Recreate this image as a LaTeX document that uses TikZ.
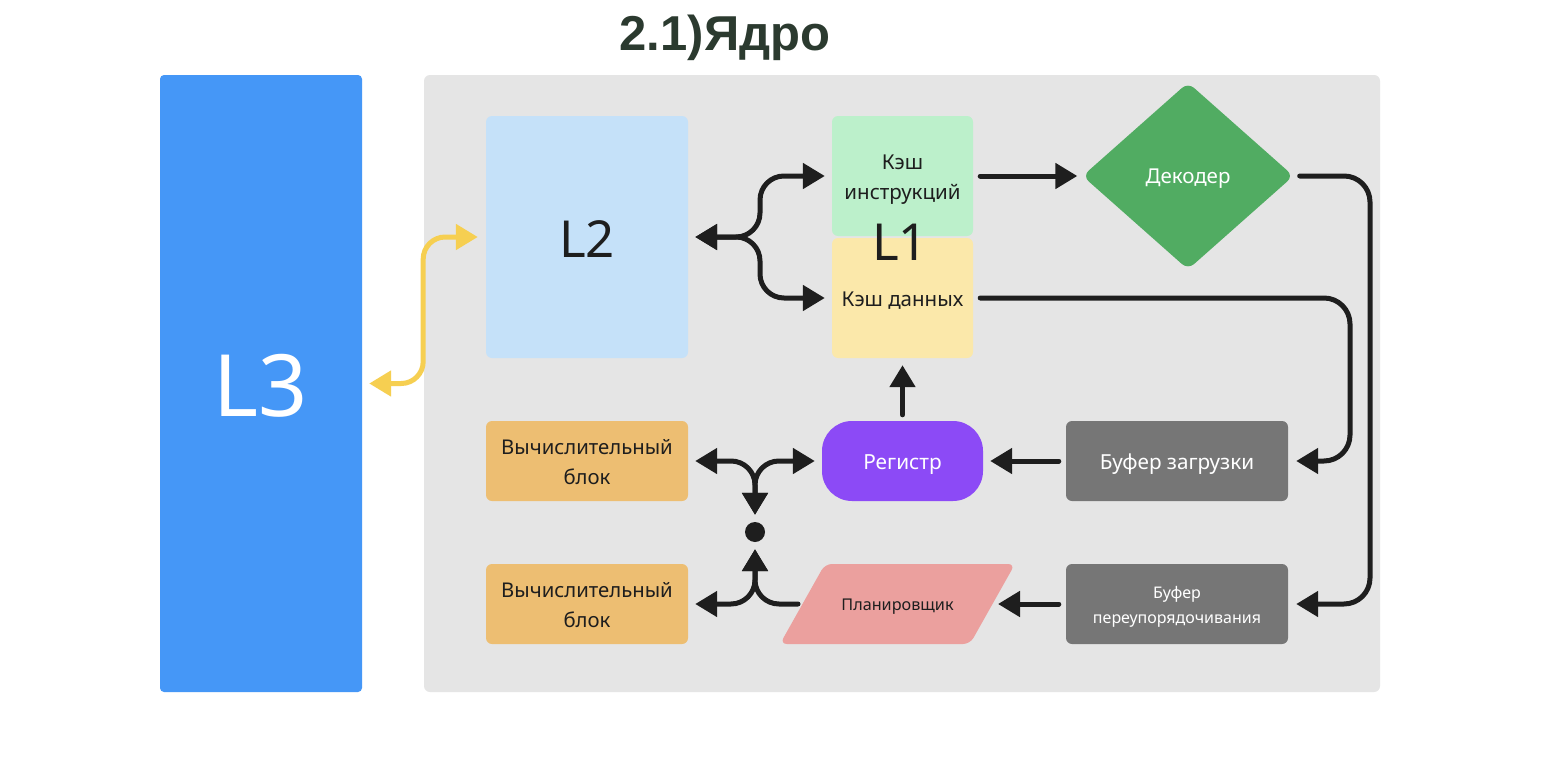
\documentclass[tikz,border=0pt]{standalone}
\usepackage{fontspec}
\setmainfont{Noto Sans}
\newfontfamily\titlefont{Liberation Sans}
\usetikzlibrary{arrows.meta,shapes.geometric,calc}
\definecolor{bgpanel}{HTML}{E5E5E5}
\definecolor{lthree}{HTML}{4597F7}
\definecolor{ltwo}{HTML}{C5E1F9}
\definecolor{icachec}{HTML}{BCF0CB}
\definecolor{dcachec}{HTML}{FBE8AA}
\definecolor{decc}{HTML}{51AC62}
\definecolor{aluc}{HTML}{EDBE72}
\definecolor{regc}{HTML}{8C4AF6}
\definecolor{bufc}{HTML}{767676}
\definecolor{planc}{HTML}{EBA09E}
\definecolor{ink}{HTML}{1E1E1E}
\definecolor{yel}{HTML}{F6CF51}
\definecolor{titlec}{HTML}{2B3A2F}
\tikzset{
  blk/.style={rectangle, rounded corners=6pt, inner sep=0pt},
  txt/.style={inner sep=0pt, align=center, text=ink},
  con/.style={line width=5pt, draw=ink, line cap=round, rounded corners=24pt},
  tip/.style={-{Triangle[length=22pt,width=25pt]}},
  tips/.style={{Triangle[length=22pt,width=25pt]}-{Triangle[length=22pt,width=25pt]}},
}
\begin{document}
\begin{tikzpicture}[x=1pt,y=-1pt]
\useasboundingbox[fill=white] (0,0) rectangle (1560,768);
% title
\node[font=\titlefont\bfseries\fontsize{49}{55}\selectfont, text=titlec] (title) at (725,38) {2.1)Ядро};
% panel and L3
\node[blk, fill=bgpanel, minimum width=956pt, minimum height=617pt] (panel) at (902,383.5) {};
\node[blk, fill=lthree, rounded corners=4pt, minimum width=202pt, minimum height=617pt] (L3) at (261,383.5) {};
\node[txt, text=white, font=\fontsize{86}{90}\selectfont] (L3t) at ($(L3)+(0,2)$) {L3};
% L2
\node[blk, fill=ltwo, minimum width=202pt, minimum height=242pt] (L2) at (587,237) {};
\node[txt, font=\fontsize{51}{56}\selectfont] (L2t) at ($(L2)+(0,2)$) {L2};
% L1 caches
\node[blk, fill=icachec, minimum width=141pt, minimum height=120pt] (icache) at (902.5,176) {};
\node[txt, font=\fontsize{20.5}{30}\selectfont] (icachet) at ($(icache)+(0,4)$) {Кэш\\инструкций};
\node[blk, fill=dcachec, minimum width=141pt, minimum height=120pt] (dcache) at (902.5,298) {};
\node[txt, font=\fontsize{20.5}{30}\selectfont] (dcachet) at ($(dcache)+(0,3)$) {Кэш данных};
\node[txt, font=\fontsize{51}{56}\selectfont] (L1) at (900,242) {L1};
% decoder
\node[diamond, aspect=1.133, fill=decc, rounded corners=8pt, minimum width=211pt, minimum height=187pt, inner sep=0pt] (dec) at (1188,176) {};
\node[txt, text=white, font=\fontsize{20.5}{24}\selectfont] (dect) at ($(dec)+(0,3)$) {Декодер};
% compute blocks
\node[blk, fill=aluc, minimum width=202pt, minimum height=80pt] (vb1) at (587,461) {};
\node[txt, font=\fontsize{20.3}{30}\selectfont] (vb1t) at ($(vb1)+(0,1)$) {Вычислительный\\блок};
\node[blk, fill=aluc, minimum width=202pt, minimum height=80pt] (vb2) at (587,604) {};
\node[txt, font=\fontsize{20.3}{30}\selectfont] (vb2t) at ($(vb2)+(0,1)$) {Вычислительный\\блок};
% register
\node[blk, fill=regc, rounded corners=30pt, minimum width=161pt, minimum height=80pt] (reg) at (902.5,461) {};
\node[txt, text=white, font=\fontsize{20.8}{24}\selectfont] (regt) at ($(reg)+(0,4)$) {Регистр};
% buffers
\node[blk, fill=bufc, minimum width=222pt, minimum height=80pt] (lbuf) at (1177,461) {};
\node[txt, text=white, font=\fontsize{20.7}{24}\selectfont] (lbuft) at ($(lbuf)+(0,3)$) {Буфер загрузки};
\node[blk, fill=bufc, minimum width=222pt, minimum height=80pt] (rob) at (1177,604) {};
\node[txt, text=white, font=\fontsize{16}{25}\selectfont] (robt) at ($(rob)+(0,3)$) {Буфер\\переупорядочивания};
% planner (parallelogram)
\fill[planc, rounded corners=7pt] (825,564) -- (1015,564) -- (970,644) -- (780,644) -- cycle;
\node[txt, font=\fontsize{16.2}{20}\selectfont] (plan) at (897.5,607) {Планировщик};
\coordinate (planL) at (798,604);
\coordinate (planR) at (998,604);
% dot
\node[circle, fill=ink, minimum size=20pt, inner sep=0pt] (dot) at (755,532) {};

% yellow L3 <-> L2
\draw[con, draw=yel, rounded corners=22pt, tips] ($(L3.east)+(7,0)$) -- ++(54,0) coordinate (y1) |- ($(L2.west)+(-8,0)$);
% L2 <-> caches
\coordinate (j1) at (760,237);
\draw[con, tips] ($(L2.east)+(7,0)$) -- (j1) |- ($(icache.west)+(-7,0)$);
\draw[con, tips] ($(L2.east)+(7,0)$) -- (j1) |- ($(dcache.west)+(-7,0)$);
% icache -> decoder
\draw[con, tip] ($(icache.east)+(7,0)$) -- ($(dec.west)+(-5,0)$);
% decoder -> ROB
\draw[con, rounded corners=26pt, tip] ($(dec.east)+(6,0)$) -- (1370,176) |- ($(rob.east)+(8,0)$);
% dcache -> load buffer
\draw[con, rounded corners=26pt, tip] ($(dcache.east)+(7,0)$) -- (1350,298) |- ($(lbuf.east)+(8,0)$);
% load buffer -> register
\draw[con, tip] ($(lbuf.west)+(-7,0)$) -- ($(reg.east)+(7,0)$);
% ROB -> planner
\draw[con, tip] ($(rob.west)+(-7,0)$) -- (planR);
% register -> dcache
\draw[con, tip] ($(reg.north)+(0,-6)$) -- ($(dcache.south)+(0,7)$);
% register / vb1 junction -> dot
\draw[con, tips] ($(vb1.east)+(7,0)$) -| ($(dot.north)+(0,-7)$);
\draw[con, tips] ($(reg.west)+(-7,0)$) -| ($(dot.north)+(0,-7)$);
% planner junction -> dot and vb2
\draw[con, tips] ($(vb2.east)+(7,0)$) -| ($(dot.south)+(0,7)$);
\draw[con, tip] (planL) -| ($(dot.south)+(0,7)$);
\end{tikzpicture}
\end{document}
